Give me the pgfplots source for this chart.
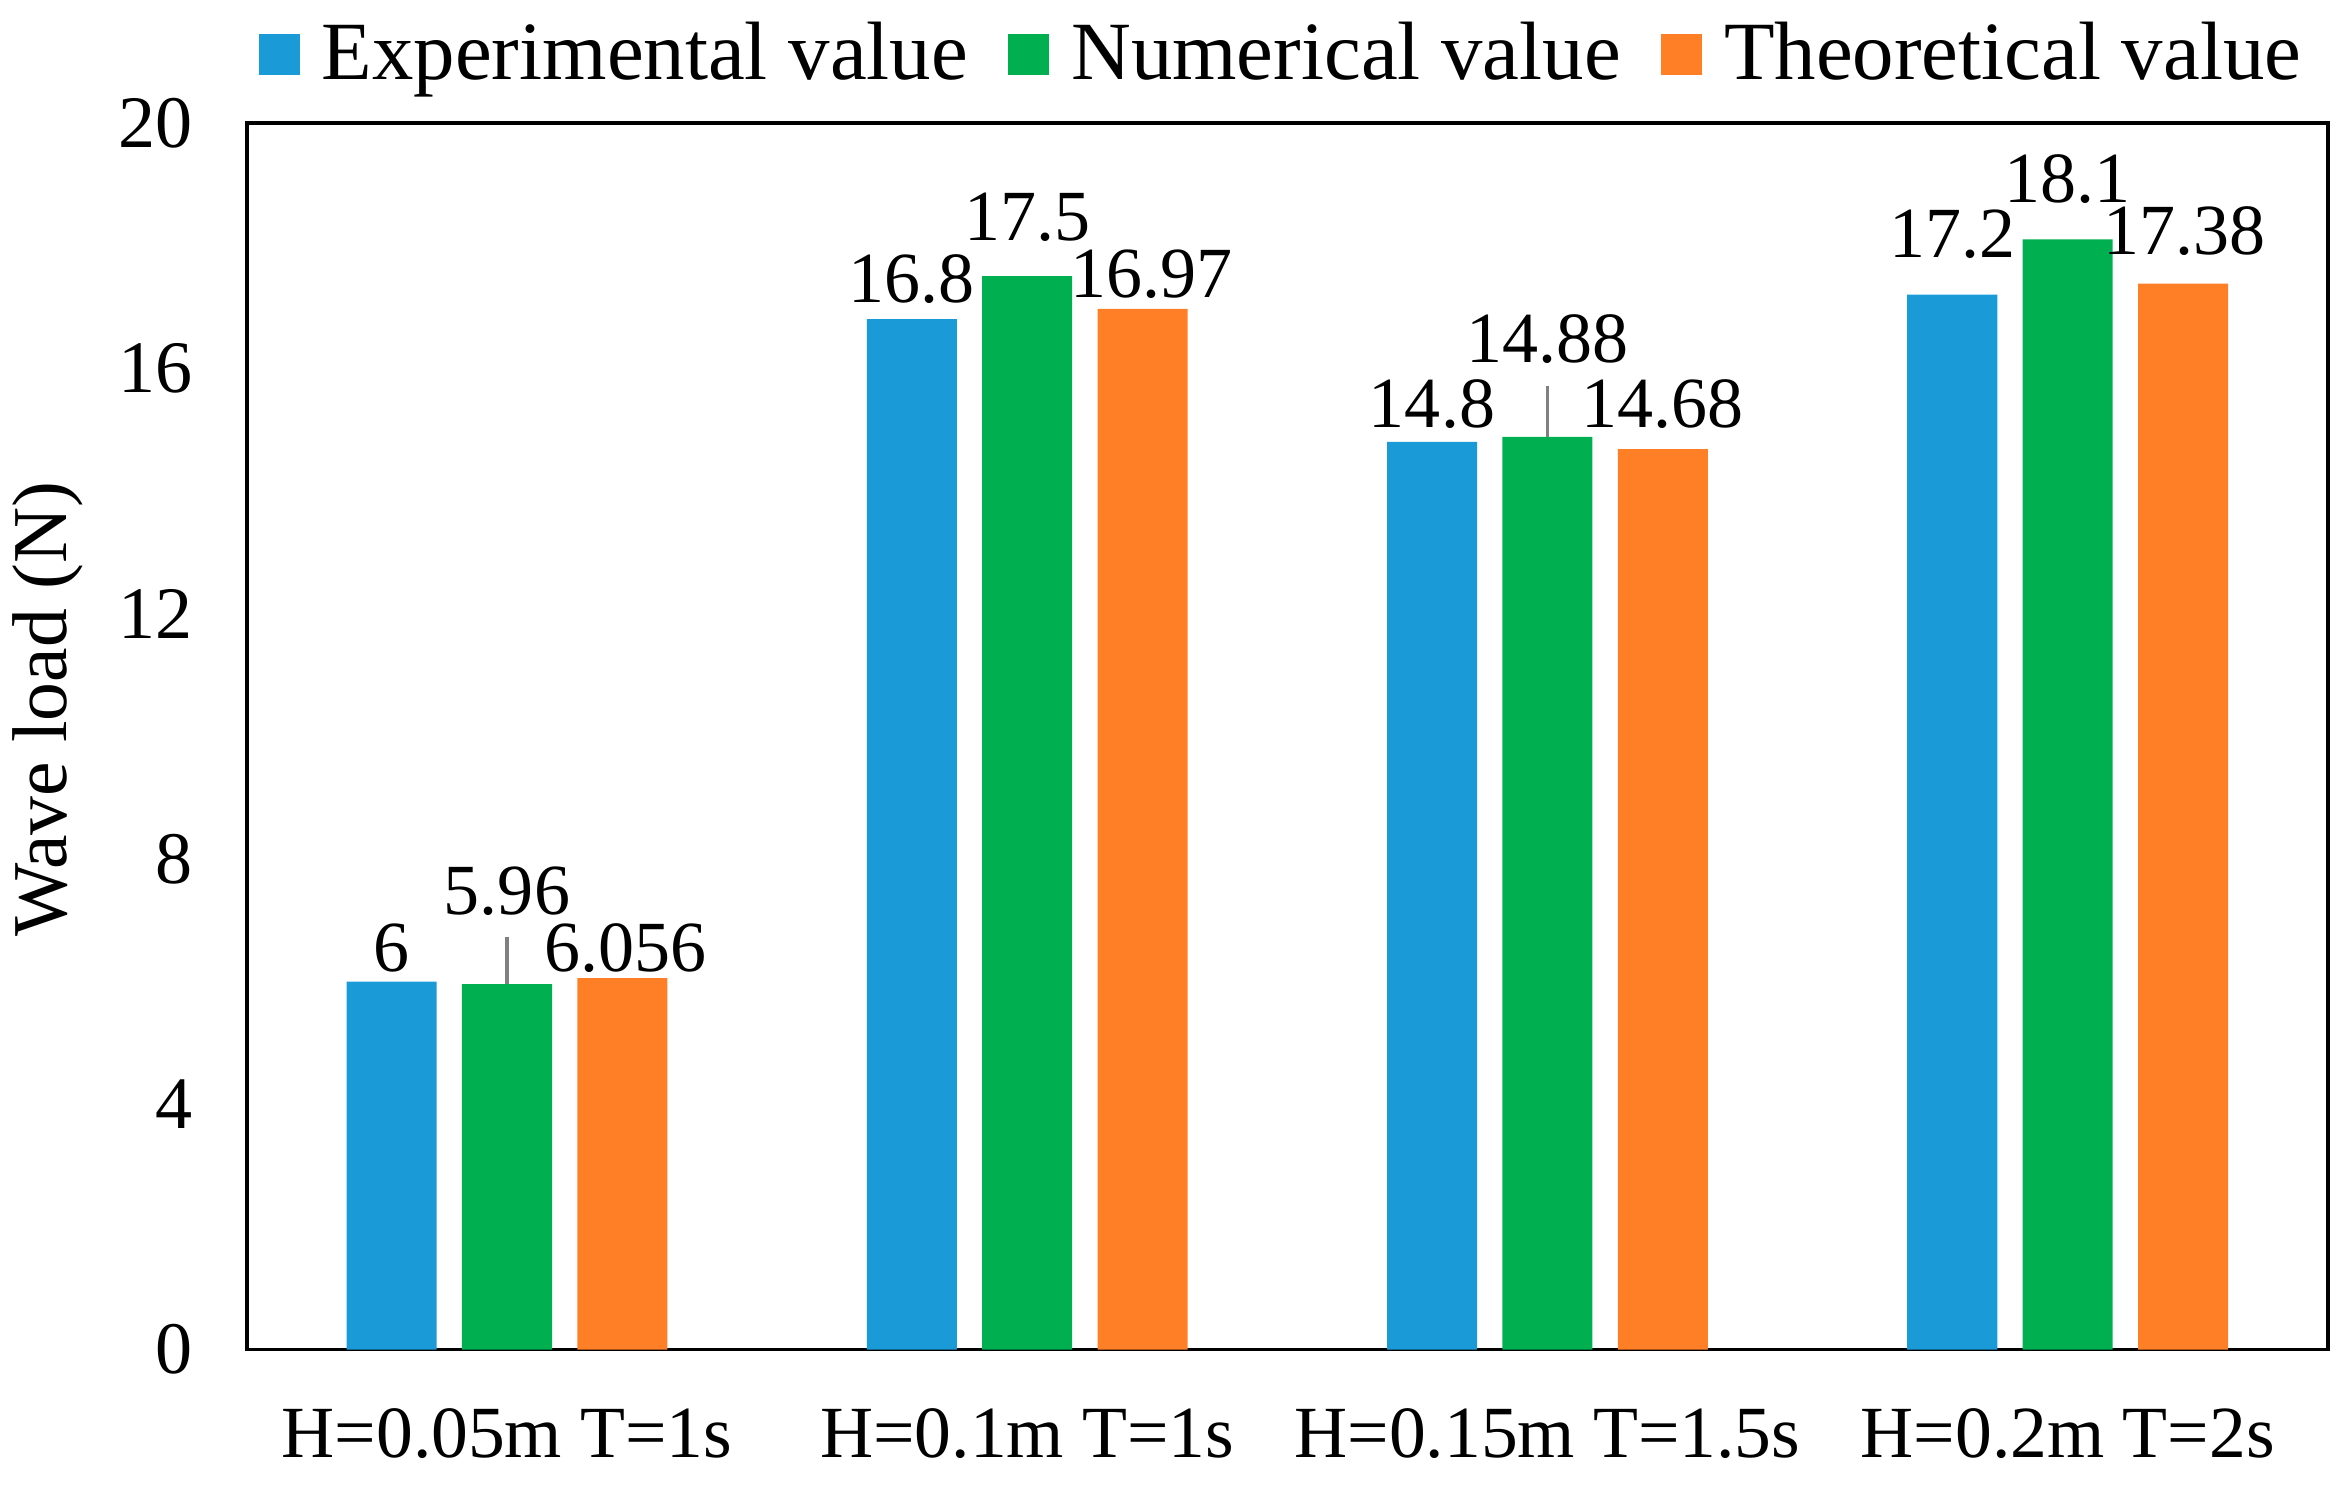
\documentclass[border=0pt]{standalone}
\usepackage{fontspec}
\setmainfont{Liberation Serif}
\usepackage{pgfplots}
\pgfplotsset{compat=1.18}
\definecolor{cblue}{RGB}{26,155,215}
\definecolor{cgreen}{RGB}{0,176,80}
\definecolor{corange}{RGB}{255,127,39}
\pgfplotsset{sqlegend/.style={legend image code/.code={\fill[##1] (0pt,-4pt) rectangle (8pt,4pt);}}}
\begin{document}
\begin{tikzpicture}
\begin{axis}[
  scale only axis, width=404.6pt, height=238.5pt,
  xmin=-0.5, xmax=3.5, ymin=0, ymax=20,
  xtick={0,1,2,3},
  xticklabels={{H=0.05m T=1s},{H=0.1m T=1s},{H=0.15m T=1.5s},{H=0.2m T=2s}},
  ytick={0,4,8,12,16,20},
  major tick length=0pt,
  axis line style={line width=0.7pt},
  /pgf/number format/assume math mode=true,
  yticklabel style={font=\fontsize{14.4}{16}\selectfont, xshift=-7pt},
  xticklabel style={font=\fontsize{14.3}{16}\selectfont, yshift=-8pt},
  ylabel={Wave load (N)},
  ylabel style={font=\fontsize{15.1}{17}\selectfont, at={(ticklabel cs:0.522)}},
  legend style={at={(0.4964,1.056)}, anchor=center, draw=none, fill=none,
    inner sep=0pt, nodes={inner sep=0pt},
    font=\fontsize{16.1}{19}\selectfont, legend columns=3,
    /tikz/every odd column/.append style={column sep=4.3pt},
    /tikz/every even column/.append style={column sep=7.8pt}},
]
\addplot[ybar, bar width=0.173, bar shift=-0.222, fill=cblue, draw=none, sqlegend]
  coordinates {(0,6) (1,16.8) (2,14.8) (3,17.2)};
\addlegendentry{Experimental value}
\addplot[ybar, bar width=0.173, bar shift=0, fill=cgreen, draw=none, sqlegend]
  coordinates {(0,5.96) (1,17.5) (2,14.88) (3,18.1)};
\addlegendentry{Numerical value}
\addplot[ybar, bar width=0.173, bar shift=0.222, fill=corange, draw=none, sqlegend]
  coordinates {(0,6.056) (1,16.97) (2,14.68) (3,17.38)};
\addlegendentry{Theoretical value}
% leader lines
\draw[gray, line width=0.6pt] (axis cs:0,5.96) -- (axis cs:0,6.72);
\draw[gray, line width=0.6pt] (axis cs:2,14.88) -- (axis cs:2,15.71);
% data labels
\begin{scope}[every node/.style={anchor=base, font=\fontsize{14}{16}\selectfont, inner sep=0pt}]
\node at (axis cs:-0.222,6.16) {6};
\node at (axis cs:0,7.09) {5.96};
\node at (axis cs:0.228,6.16) {6.056};
\node at (axis cs:0.778,17.07) {16.8};
\node at (axis cs:1,18.09) {17.5};
\node at (axis cs:1.239,17.16) {16.97};
\node at (axis cs:1.778,15.04) {14.8};
\node at (axis cs:2,16.09) {14.88};
\node at (axis cs:2.222,15.03) {14.68};
\node at (axis cs:2.778,17.80) {17.2};
\node at (axis cs:3,18.71) {18.1};
\node at (axis cs:3.225,17.85) {17.38};
\end{scope}
\end{axis}
\pgfresetboundingbox
\path ([xshift=-48.0pt,yshift=-26.2pt]current axis.south west) rectangle ([xshift=4.5pt,yshift=23.9pt]current axis.north east);
\end{tikzpicture}
\end{document}
